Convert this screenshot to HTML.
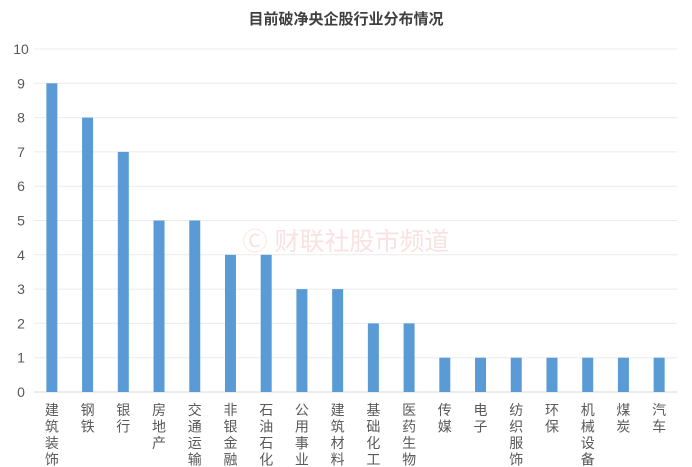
<!DOCTYPE html>
<html><head><meta charset="utf-8"><style>
body{margin:0;background:#fff;font-family:"Liberation Sans","Noto Sans CJK SC",sans-serif;}
</style></head><body>
<svg width="692" height="467" viewBox="0 0 692 467" id="c" style="display:block">
<text x="346" y="24" text-anchor="middle" font-size="15" font-weight="bold" fill="#404040" font-family="Liberation Sans, Noto Sans CJK SC, sans-serif">目前破净央企股行业分布情况</text>
<text x="346" y="250" text-anchor="middle" font-size="25" fill="#f9e2e2" font-family="Liberation Sans, Noto Sans CJK SC, sans-serif">Ⓒ 财联社股市频道</text>
</svg>
<script>
const categories=["建筑装饰","钢铁","银行","房地产","交通运输","非银金融","石油石化","公用事业","建筑材料","基础化工","医药生物","传媒","电子","纺织服饰","环保","机械设备","煤炭","汽车"];
const values=[9,8,7,5,5,4,4,3,3,2,2,1,1,1,1,1,1,1];
const yTicks=[0,1,2,3,4,5,6,7,8,9,10];
const svg=document.getElementById('c');const NS='http://www.w3.org/2000/svg';
const x0=34,x1=677,yBase=392,yTop=49,yMax=10;
const y=v=>yBase-(yBase-yTop)*v/yMax;
const step=(x1-x0)/categories.length;
const xc=i=>x0+step*(i+0.5);
function mk(t,a){const e=document.createElementNS(NS,t);for(const k in a)e.setAttribute(k,a[k]);svg.appendChild(e);return e;}
yTicks.forEach(t=>{
 const l=mk('line',{x1:x0,x2:x1,y1:y(t),y2:y(t),stroke:t===0?'#d9d9d9':'#ececec','stroke-width':1});
 
 
 const tx=mk('text',{x:21,y:y(t)+5,'text-anchor':'middle','font-size':14,fill:'#595959'});
 tx.textContent=t;
 
 
});
categories.forEach((c,i)=>{
 const r=mk('rect',{x:xc(i)-5.5,y:y(values[i]),width:11,height:yBase-y(values[i]),fill:'#5b9bd5'});
 
 
 const g=mk('text',{'font-size':14,fill:'#595959','text-anchor':'middle'});
 
 
 [...c].forEach((ch,j)=>{const s=document.createElementNS(NS,'tspan');s.setAttribute('x',xc(i));s.setAttribute('y',415+j*16.5);s.textContent=ch;g.appendChild(s);});
});
</script>
</body></html>
